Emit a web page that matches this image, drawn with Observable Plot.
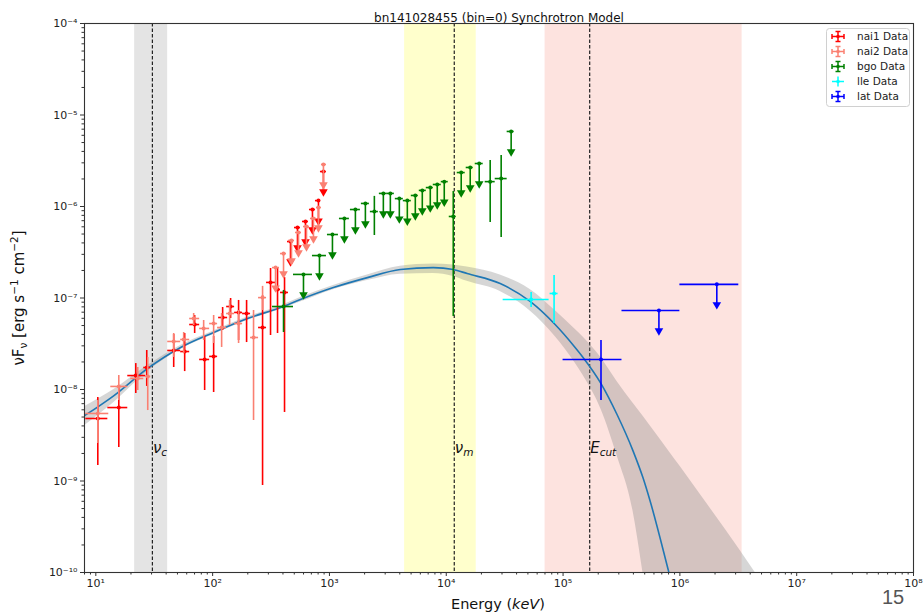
<!DOCTYPE html>
<html><head><meta charset="utf-8">
<script src="https://cdn.jsdelivr.net/npm/d3@7"></script>
<script src="https://cdn.jsdelivr.net/npm/@observablehq/plot@0.6"></script>
<style>
body{margin:0;background:#fff;}
#chart{position:relative;width:923px;height:612px;overflow:hidden;background:#fff;}
#chart svg{font-family:"DejaVu Sans",sans-serif;}
</style></head><body><div id="chart"></div>
<script>
// ---------------- data ----------------
const titleText = "bn141028455 (bin=0) Synchrotron Model";
const xMajorTicks = [1e1, 1e2, 1e3, 1e4, 1e5, 1e6, 1e7, 1e8];
const yMajorTicks = [1e-10, 1e-9, 1e-8, 1e-7, 1e-6, 1e-5, 1e-4];

// region names, edges and centres (keV)
const regionLabels = ["ν|c", "ν|m", "E|cut"];
const regionLo = [21.5, 4400, 70150];
const regionHi = [41.2, 18050, 3.41e6];
const regionMid = [30.5, 11710, 169000];
const regionLabelFlux = 2.0e-9;

// model curve
const modelE = [8.05, 14.3, 27.8, 53.2, 102, 199, 381, 565, 1081, 2113, 4046, 7745, 11480, 15100, 28960, 52240, 85500, 126800, 148300, 211300, 289700, 396300, 482700, 554600, 805400, 1.0e6];
const modelF = [5.20e-9, 8.59e-9, 1.70e-8, 2.88e-8, 4.20e-8, 5.97e-8, 7.87e-8, 9.64e-8, 1.30e-7, 1.67e-7, 2.05e-7, 2.15e-7, 2.05e-7, 1.85e-7, 1.44e-7, 9.17e-8, 5.13e-8, 2.88e-8, 2.24e-8, 1.16e-8, 5.33e-9, 2.15e-9, 1.09e-9, 6.12e-10, 1.0e-10, 3.4e-11];

// model uncertainty band
const bandE  = [8.05, 14.3, 27.8, 53.2, 102, 199, 381, 565, 1081, 2113, 4046, 7745, 11480, 15100, 28960, 52240, 85500, 126800, 148300, 211300, 289700, 396300, 482700, 554600, 805400, 1.0e6, 1.8e6, 3.26e6, 4.46e6, 5.88e6];
const bandLo = [4.04e-9, 7.21e-9, 1.57e-8, 2.74e-8, 3.99e-8, 5.68e-8, 7.48e-8, 9.03e-8, 1.23e-7, 1.55e-7, 1.82e-7, 1.85e-7, 1.72e-7, 1.52e-7, 1.18e-7, 7.20e-8, 3.80e-8, 1.95e-8, 1.43e-8, 6.10e-9, 1.90e-9, 4.76e-10, 1.0e-10, 2.99e-11, 1e-12, 1e-13, 1e-13, 1e-13, 1e-13, 1e-13];
const bandHi = [6.52e-9, 1.0e-8, 1.83e-8, 3.03e-8, 4.36e-8, 6.19e-8, 8.18e-8, 1.01e-7, 1.37e-7, 1.78e-7, 2.22e-7, 2.36e-7, 2.30e-7, 2.18e-7, 1.78e-7, 1.24e-7, 7.30e-8, 4.55e-8, 3.75e-8, 2.22e-8, 1.22e-8, 7.10e-9, 5.13e-9, 4.04e-9, 2.12e-9, 1.46e-9, 5.13e-10, 1.76e-10, 9.8e-11, 5.75e-11];

// detections: [E, Elo, Ehi, F, Flo, Fhi]   upper limits: [E, Elo, Ehi, F]
const nai1 = [
  [10.40, 8.21, 12.67, 4.82e-9, 1.48e-9, 8.18e-9],
  [15.73, 12.67, 18.77, 6.35e-9, 2.32e-9, 1.05e-8],
  [21.98, 18.77, 26.76, 1.42e-8, 9.04e-9, 1.92e-8],
  [27.29, 25.73, 29.52, 1.74e-8, 1.08e-8, 2.67e-8],
  [46.42, 41.25, 53.28, 2.67e-8, 1.74e-8, 3.99e-8],
  [57.64, 53.28, 63.60, 2.60e-8, 1.57e-8, 4.09e-8],
  [70.17, 63.60, 77.43, 5.13e-8, 4.09e-8, 6.44e-8],
  [85.43, 77.43, 94.27, 2.13e-8, 9.75e-9, 3.79e-8],
  [102.0, 94.27, 110.3, 2.30e-8, 9.27e-9, 3.79e-8],
  [121.8, 112.5, 134.4, 6.12e-8, 4.42e-8, 7.87e-8],
  [142.5, 131.8, 154.2, 8.07e-8, 5.97e-8, 9.88e-8],
  [166.8, 154.2, 180.5, 6.95e-8, 3.43e-8, 9.40e-8],
  [195.3, 180.5, 211.2, 6.77e-8, 3.26e-8, 9.40e-8],
  [267.6, 247.3, 289.4, 4.76e-8, 8.93e-10, 1.06e-7],
  [313.1, 289.4, 345.6, 1.48e-7, 3.89e-8, 2.10e-7],
  [359.4, 345.6, 381.3, 1.24e-7, 4.09e-8, 2.10e-7],
  [412.6, 381.3, 446.3, 1.15e-7, 5.61e-9, 1.67e-7]
];
const nai1UL = [
  [464.2, 437.5, 492.4, 4.14e-7],
  [532.7, 502.1, 564.9, 5.89e-7],
  [623.5, 587.7, 661.4, 6.86e-7],
  [715.5, 674.5, 759.2, 9.27e-7],
  [805.4, 759.2, 837.5, 1.16e-6],
  [888.5, 837.5, 942.7, 2.41e-6]
];
const nai2 = [
  [10.40, 8.21, 12.91, 5.47e-9, 2.57e-9, 7.58e-9],
  [15.73, 13.43, 18.77, 1.08e-8, 7.58e-9, 1.42e-8],
  [22.86, 19.91, 25.73, 1.32e-8, 9.75e-9, 1.74e-8],
  [27.83, 26.76, 29.52, 1.39e-8, 5.89e-9, 2.24e-8],
  [46.42, 41.25, 53.28, 3.35e-8, 2.24e-8, 4.09e-8],
  [56.51, 53.28, 63.60, 3.52e-8, 2.47e-8, 4.20e-8],
  [68.80, 63.60, 77.43, 5.97e-8, 5.00e-8, 6.77e-8],
  [83.77, 77.43, 94.27, 4.65e-8, 3.43e-8, 5.68e-8],
  [102.0, 94.27, 110.3, 5.26e-8, 3.18e-8, 6.44e-8],
  [119.4, 110.3, 131.8, 4.76e-8, 2.88e-8, 6.77e-8],
  [139.8, 131.8, 154.2, 6.77e-8, 5.00e-8, 9.40e-8],
  [166.8, 154.2, 180.5, 5.26e-8, 3.18e-8, 7.30e-8],
  [224.0, 211.2, 247.3, 3.70e-8, 4.58e-9, 7.30e-8],
  [267.6, 247.3, 289.4, 1.01e-7, 7.30e-8, 1.34e-7]
];
const nai2UL = [
  [345.6, 325.6, 373.8, 2.15e-7],
  [404.5, 381.3, 429.0, 3.06e-7],
  [473.3, 446.3, 502.1, 4.25e-7],
  [543.3, 512.3, 576.4, 5.20e-7],
  [636.0, 599.5, 674.5, 6.04e-7],
  [729.9, 688.0, 774.3, 7.40e-7],
  [805.4, 774.3, 854.3, 9.75e-7],
  [888.5, 854.3, 942.7, 2.88e-6]
];
const bgo = [
  [404.5, 325.6, 492.4, 8.07e-8, 4.20e-8, 1.21e-7],
  [2424, 2241, 2623, 8.81e-7, 4.82e-7, 1.29e-6],
  [11480, 10610, 12180, 7.78e-7, 6.28e-8, 1.46e-6],
  [23770, 21540, 26240, 1.87e-6, 6.69e-7, 3.18e-6],
  [29520, 26240, 33220, 2.02e-6, 4.58e-7, 3.61e-6]
];
const bgoUL = [
  [599.5, 492.4, 715.5, 1.81e-7],
  [821.4, 715.5, 942.7, 2.91e-7],
  [1061, 961.4, 1194, 4.94e-7],
  [1343, 1218, 1482, 7.40e-7],
  [1668, 1512, 1841, 9.27e-7],
  [2031, 1877, 2198, 1.08e-6],
  [2894, 2675, 3131, 1.39e-6],
  [3322, 3131, 3594, 1.39e-6],
  [3965, 3665, 4290, 1.22e-6],
  [4642, 4290, 5022, 1.16e-6],
  [5433, 5022, 5764, 1.32e-6],
  [6236, 5877, 6747, 1.50e-6],
  [7298, 6747, 7743, 1.61e-6],
  [8377, 7743, 9064, 1.74e-6],
  [9614, 9064, 10400, 1.87e-6],
  [13430, 12420, 14530, 2.35e-6],
  [16040, 14820, 17010, 2.67e-6],
  [19150, 17700, 20720, 2.95e-6],
  [35940, 33220, 38130, 6.61e-6]
];
const lle = [
  [53280, 30700, 75920, 9.64e-8, 7.87e-8, 1.15e-7],
  [83770, 77430, 90630, 1.12e-7, 5.26e-8, 1.76e-7]
];
const lleUL = [];
const lat = [[211200, 100000, 319400, 2.13e-8, 7.58e-9, 3.43e-8]];
const latUL = [
  [661600, 319400, 1.0e6, 7.30e-8],
  [2.071e6, 1.0e6, 3.194e6, 1.41e-7]
];

const seriesNames = ["nai1 Data", "nai2 Data", "bgo Data", "lle Data", "lat Data"];
const seriesColors = ["#ff0000", "#fa8072", "#008000", "#00ffff", "#0000ff"];
const seriesPts = [nai1, nai2, bgo, lle, lat];
const seriesUL = [nai1UL, nai2UL, bgoUL, lleUL, latUL];

// ---------------- build ----------------
const supMap = {"-": "\u207B", "0": "\u2070", "1": "\u00B9", "2": "\u00B2", "3": "\u00B3", "4": "\u2074", "5": "\u2075", "6": "\u2076", "7": "\u2077", "8": "\u2078", "9": "\u2079"};
const pow10 = v => "10" + String(Math.round(Math.log10(v))).replace(/[-0-9]/g, c => supMap[c]);

const minorTicks = (lo, hi) => {
  const out = [];
  for (let e = lo; e <= hi; e++) for (let k = 2; k <= 9; k++) out.push(k * Math.pow(10, e));
  return out;
};
const xMinor = minorTicks(0, 7).filter(v => v >= 8 && v <= 1e8);
const yMinor = minorTicks(-10, -5);

const regions = regionLo.map((lo, i) => ({lo, hi: regionHi[i], mid: regionMid[i]}));
const regionFills = ["#e4e4e4", "#ffffcc", "#fde3df"];
const model = modelE.map((E, i) => ({E, F: modelF[i]}));
const band = bandE.map((E, i) => ({E, lo: bandLo[i], hi: bandHi[i]}));

const ULF = 0.6; // arrow length factor for upper limits

const dataMarks = [];
seriesPts.forEach((pts, s) => {
  const c = seriesColors[s];
  const ul = seriesUL[s];
  dataMarks.push(
    Plot.ruleY(pts, {y: d => d[3], x1: d => d[1], x2: d => d[2], stroke: c, strokeWidth: 1.6}),
    Plot.ruleX(pts, {x: d => d[0], y1: d => d[4], y2: d => d[5], stroke: c, strokeWidth: 1.6}),
    Plot.dot(pts, {x: d => d[0], y: d => d[3], r: 2, fill: c, stroke: "none"}),
    Plot.ruleY(ul, {y: d => d[3], x1: d => d[1], x2: d => d[2], stroke: c, strokeWidth: 1.6}),
    Plot.ruleX(ul, {x: d => d[0], y1: d => d[3], y2: d => d[3] * ULF, stroke: c, strokeWidth: 1.6}),
    Plot.dot(ul, {x: d => d[0], y: d => d[3] * ULF, symbol: "triangle", rotate: 180, r: 3.2, fill: c, stroke: "none"}),
    Plot.dot(ul, {x: d => d[0], y: d => d[3], r: 2, fill: c, stroke: "none"})
  );
});

const plot = Plot.plot({
  width: 923,
  height: 612,
  marginLeft: 84,
  marginRight: 10,
  marginTop: 23,
  marginBottom: 40,
  style: {fontFamily: "DejaVu Sans", fontSize: "11px", color: "#222", background: "white", overflow: "hidden"},
  x: {type: "log", domain: [8, 1e8]},
  y: {type: "log", domain: [1e-10, 1e-4]},
  marks: [
    Plot.rect(regions, {x1: "lo", x2: "hi", fill: (d, i) => regionFills[i]}),
    Plot.ruleX(regions, {x: "mid", stroke: "#222", strokeWidth: 1.2, strokeDasharray: "3.5,2"}),
    Plot.areaY(band, {x: "E", y1: "lo", y2: "hi", fill: "#808080", fillOpacity: 0.32, curve: "monotone-x", clip: true}),
    Plot.line(model, {x: "E", y: "F", stroke: "#1f77b4", strokeWidth: 1.6, curve: "monotone-x", clip: true}),
    ...dataMarks,
    Plot.axisX({ticks: xMajorTicks, tickFormat: pow10, tickSize: 4, tickPadding: 3, label: null, stroke: "#333", fontSize: 11}),
    Plot.axisX({ticks: xMinor, tickFormat: () => "", tickSize: 2.5, label: null, stroke: "#333"}),
    Plot.axisY({ticks: yMajorTicks, tickFormat: pow10, tickSize: 4, tickPadding: 3, label: null, stroke: "#333", fontSize: 11}),
    Plot.axisY({ticks: yMinor, tickFormat: () => "", tickSize: 2.5, label: null, stroke: "#333"}),
    Plot.frame({stroke: "#333", strokeWidth: 1.1}),
    Plot.text([titleText], {frameAnchor: "top", dy: -10, fontSize: 12, fill: "#111"})
  ]
});

document.getElementById("chart").appendChild(plot);
const svg = d3.select(plot);
const xs = plot.scale("x"), ys = plot.scale("y");

// region labels (math-style with subscripts)
regionLabels.forEach((lab, i) => {
  const [main, sub] = lab.split("|");
  const t = svg.append("text")
    .attr("x", xs.apply(regionMid[i]) + 1)
    .attr("y", ys.apply(regionLabelFlux))
    .attr("text-anchor", "start")
    .attr("font-size", 15).attr("font-style", "italic").attr("fill", "#111");
  t.append("tspan").text(main);
  t.append("tspan").attr("dy", 3.5).attr("font-size", 10.5).text(sub);
});

// y label
const yl = svg.append("text")
  .attr("transform", "translate(24,298) rotate(-90)")
  .attr("text-anchor", "middle").attr("font-size", 15).attr("fill", "#111");
yl.append("tspan").text("\u03BDF");
yl.append("tspan").attr("dy", 3).attr("font-size", 10.5).text("\u03BD");
yl.append("tspan").attr("dy", -3).text(" [erg s");
yl.append("tspan").attr("dy", -6).attr("font-size", 10.5).text("\u22121");
yl.append("tspan").attr("dy", 6).text(" cm");
yl.append("tspan").attr("dy", -6).attr("font-size", 10.5).text("\u22122");
yl.append("tspan").attr("dy", 6).text("]");

// x label
const xl = svg.append("text")
  .attr("x", 498).attr("y", 609)
  .attr("text-anchor", "middle").attr("font-size", 14.5).attr("fill", "#111");
xl.append("tspan").text("Energy (");
xl.append("tspan").attr("font-style", "italic").text("keV");
xl.append("tspan").text(")");

// legend
const lg = svg.append("g");
lg.append("rect").attr("x", 826.5).attr("y", 28.5).attr("width", 83).attr("height", 78)
  .attr("rx", 3).attr("fill", "white").attr("fill-opacity", 0.85).attr("stroke", "#d0d0d0");
seriesNames.forEach((name, i) => {
  const cy = 36.5 + i * 15, cx = 838, c = seriesColors[i];
  const g = lg.append("g").attr("stroke", c).attr("stroke-width", 1.5);
  g.append("line").attr("x1", cx - 6).attr("x2", cx + 6).attr("y1", cy).attr("y2", cy);
  g.append("line").attr("x1", cx).attr("x2", cx).attr("y1", cy - 5).attr("y2", cy + 5);
  if (seriesUL[i].length) {
    g.append("line").attr("x1", cx - 6).attr("x2", cx - 6).attr("y1", cy - 2.5).attr("y2", cy + 2.5);
    g.append("line").attr("x1", cx + 6).attr("x2", cx + 6).attr("y1", cy - 2.5).attr("y2", cy + 2.5);
    g.append("line").attr("x1", cx - 2.5).attr("x2", cx + 2.5).attr("y1", cy - 5).attr("y2", cy - 5);
    g.append("line").attr("x1", cx - 2.5).attr("x2", cx + 2.5).attr("y1", cy + 5).attr("y2", cy + 5);
  }
  lg.append("circle").attr("cx", cx).attr("cy", cy).attr("r", 1.8).attr("fill", c);
  lg.append("text").attr("x", 857).attr("y", cy).attr("dy", "0.35em")
    .attr("text-anchor", "start")
    .attr("font-size", 10.5).attr("fill", "#222").text(name);
});

// page number at bottom right
svg.append("text").attr("x", 882).attr("y", 604).attr("text-anchor", "start")
  .attr("font-family", "Liberation Sans").attr("font-size", 20).attr("fill", "#555").text("15");
</script></body></html>
